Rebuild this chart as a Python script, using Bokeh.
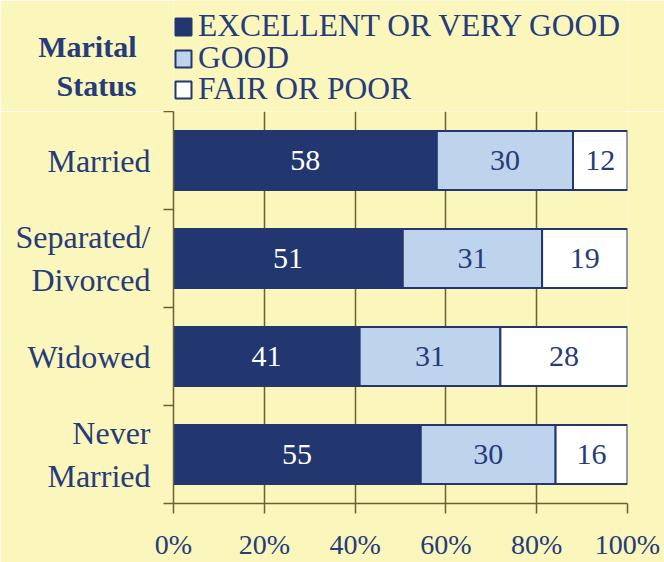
from bokeh.plotting import figure
from bokeh.layouts import column
from bokeh.models import (Range1d, LinearAxis, FixedTicker, PrintfTickFormatter, Legend,
                          LegendItem, ColumnDataSource, CustomJSTickFormatter)
from bokeh.core.properties import value
from bokeh.embed import file_html
from bokeh.resources import INLINE

# ---- data ----
categories = ["Married", "Separated/\nDivorced", "Widowed", "Never\nMarried"]
series = ["EXCELLENT OR VERY GOOD", "GOOD", "FAIR OR POOR"]
excellent = [58, 51, 41, 55]
good = [30, 31, 31, 30]
fair = [12, 19, 28, 16]
x_ticks = [0, 20, 40, 60, 80, 100]
header_lines = ["Marital", "Status"]

# ---- style ----
BG = "#FAF6BC"
NAVY = "#22366F"
TXT = "#263B7A"
GRID = "#6E5F33"
FONT = "Liberation Serif"
fills = [NAVY, "#BED3EC", "#FFFFFF"]
label_colors = ["#FFFFFF", TXT, TXT]

values = [excellent, good, fair]
totals = [sum(t) for t in zip(*values)]
n = len(categories)
ypos = [i + 0.5 for i in range(n)]

W = 664
HEAD_H = 111
MAIN_H = 562 - HEAD_H
LEFT, RIGHT = 173, 37

src = {"y": ypos}
left = [0.0] * n
for i, vals in enumerate(values):
    shares = [v / t * 100 for v, t in zip(vals, totals)]
    right = [l + s for l, s in zip(left, shares)]
    src[f"l{i}"] = left
    src[f"r{i}"] = right
    src[f"m{i}"] = [(l + r) / 2 for l, r in zip(left, right)]
    src[f"t{i}"] = [str(v) for v in vals]
    left = right
source = ColumnDataSource(src)

# ---------------- header (legend + "Marital Status") ----------------
h = figure(width=W, height=HEAD_H, x_range=Range1d(0, 100), y_range=Range1d(0, HEAD_H),
           output_backend="svg", toolbar_location=None, x_axis_location=None,
           min_border_left=LEFT, min_border_right=RIGHT, min_border_top=0, min_border_bottom=0)
h.background_fill_color = BG
h.border_fill_color = BG
h.outline_line_color = None
h.grid.visible = False

head_pos = [65.5, 26.5]   # screen placement of the two header lines
hy = h.yaxis[0]
hy.ticker = FixedTicker(ticks=head_pos)
hy.formatter = CustomJSTickFormatter(args=dict(pos=head_pos, labels=header_lines),
                                     code="const i = pos.indexOf(tick); return i >= 0 ? labels[i] : ''")
hy.axis_line_color = None
hy.major_tick_line_color = None
hy.minor_tick_line_color = None
hy.major_tick_out = 0
hy.major_tick_in = 0
hy.major_label_standoff = 37
hy.major_label_text_font = FONT
hy.major_label_text_font_style = "bold"
hy.major_label_text_font_size = "30px"
hy.major_label_text_color = TXT

leg_pos = [67, 35, 4]
for i, name in enumerate(series):
    r = h.hbar(y="y", left=f"l{i}", right=f"r{i}", height=0.6, source=source,
               fill_color=fills[i], line_color=NAVY, line_width=2, visible=False)
    lg = Legend(items=[LegendItem(label=name, renderers=[r])],
                location=(0, leg_pos[i]), orientation="vertical",
                label_text_font=FONT, label_text_font_size="31.5px",
                label_text_color=TXT, glyph_width=20, glyph_height=21,
                label_standoff=5, spacing=0, padding=0, margin=0,
                border_line_color=None, background_fill_alpha=0,
                inactive_fill_alpha=0)
    h.add_layout(lg)

# ---------------- main chart ----------------
p = figure(width=W, height=MAIN_H,
           x_range=Range1d(0, 100), y_range=Range1d(n, 0),
           output_backend="svg", toolbar_location=None,
           min_border_left=LEFT, min_border_right=RIGHT,
           min_border_top=0, min_border_bottom=59)
p.background_fill_color = BG
p.border_fill_color = BG
p.outline_line_color = None
p.ygrid.visible = False

xa = p.xaxis[0]
xa.ticker = FixedTicker(ticks=x_ticks)
xa.formatter = PrintfTickFormatter(format="%d%%")
xa.axis_line_color = GRID
xa.axis_line_width = 1.5
xa.major_tick_line_color = GRID
xa.major_tick_line_width = 1.5
xa.major_tick_out = 10
xa.major_tick_in = 0
xa.minor_tick_line_color = None
xa.major_label_text_font = FONT
xa.major_label_text_font_size = "28px"
xa.major_label_text_color = TXT
xa.major_label_standoff = 15

p.xgrid.ticker = FixedTicker(ticks=x_ticks)
p.xgrid.grid_line_color = GRID
p.xgrid.grid_line_width = 1.5

ya = p.yaxis[0]
ya.ticker = FixedTicker(ticks=list(range(n + 1)))
ya.formatter = CustomJSTickFormatter(code="return ''")
ya.axis_line_color = GRID
ya.axis_line_width = 1.5
ya.major_tick_line_color = GRID
ya.major_tick_line_width = 1.5
ya.major_tick_out = 10
ya.major_tick_in = 0
ya.minor_tick_line_color = None
ya.major_label_standoff = 0

cat_axis = LinearAxis(ticker=FixedTicker(ticks=ypos),
                      formatter=CustomJSTickFormatter(args=dict(labels=categories),
                                                      code="return labels[index]"),
                      axis_line_color=None, major_tick_line_color=None,
                      minor_tick_line_color=None,
                      major_tick_out=0, major_tick_in=0,
                      major_label_text_font=FONT,
                      major_label_text_font_size="32px",
                      major_label_text_color=TXT,
                      major_label_standoff=13)
p.add_layout(cat_axis, "left")

for i, name in enumerate(series):
    p.hbar(y="y", left=f"l{i}", right=f"r{i}", height=0.6, source=source,
           fill_color=fills[i], line_color=NAVY, line_width=2)
    p.text(x=f"m{i}", y="y", text=f"t{i}", source=source,
           text_align="center", text_baseline="middle",
           text_font=value(FONT), text_font_size="30px", text_color=label_colors[i])

layout = column(h, p, spacing=0)
open("out.html", "w").write(file_html(layout, INLINE))
